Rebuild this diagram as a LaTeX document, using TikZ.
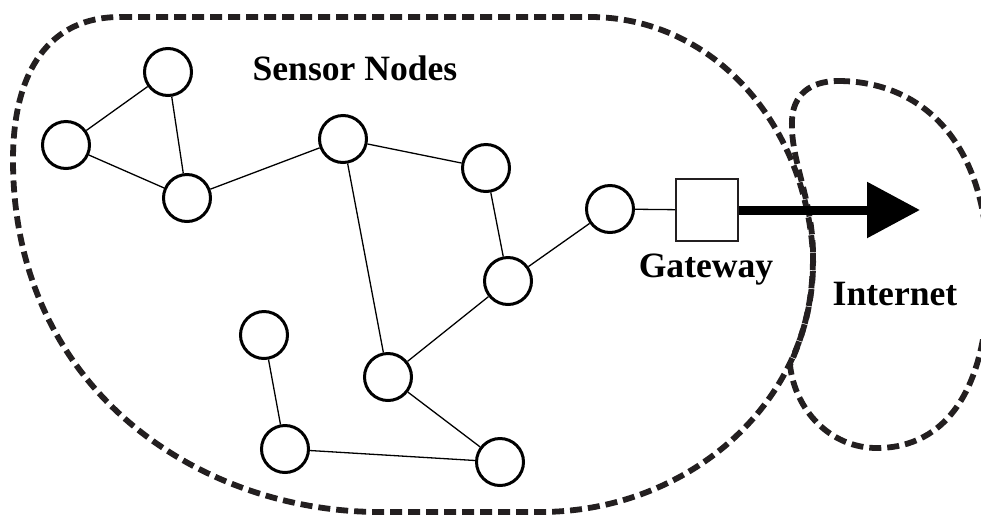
\documentclass[tikz,border=0pt]{standalone}
\usepackage{fontspec}
\setmainfont{Liberation Serif}
\usetikzlibrary{arrows.meta}
\definecolor{ink}{HTML}{231F20}
\begin{document}
\begin{tikzpicture}[x=1pt,y=-1pt,
  sensor/.style={circle, draw=black, line width=3pt, minimum size=47pt, inner sep=0pt, fill=white},
  link/.style={line width=1.3pt},
  region/.style={draw=ink, line width=5.8pt, dash pattern=on 12pt off 6pt, line cap=butt},
  gatebox/.style={rectangle, draw=ink, line width=2.3pt, minimum width=62pt, minimum height=62pt, inner sep=0pt, fill=white},
  uplink/.style={line width=9pt, -{Triangle[length=53pt,width=54pt]}},
  lbl/.style={font=\fontsize{35.6}{40}\selectfont\bfseries, inner sep=0pt, anchor=base}]
\useasboundingbox (0,0) rectangle (981,515);

% sensor field boundary
\draw[region] (120,17) -- (590,17)
  .. controls (710,17) and (805,120) .. (813,255)
  .. controls (817,400) and (690,512) .. (540,512)
  -- (380,512)
  .. controls (200,512) and (13,390) .. (13,160)
  .. controls (13,70) and (50,17) .. (120,17) -- cycle;

% internet cloud boundary
\draw[region] (838,81)
  .. controls (920,81) and (988,140) .. (988,270)
  .. controls (990,390) and (945,448) .. (877,448)
  .. controls (830,448) and (795,410) .. (790,365)
  .. controls (805,330) and (813,300) .. (813,255)
  .. controls (813,200) and (790,160) .. (792,120)
  .. controls (793,95) and (810,81) .. (838,81) -- cycle;

% sensor nodes
\node[sensor] (n1) at (168,72) {};
\node[sensor] (n2) at (66,145) {};
\node[sensor] (n3) at (187,198) {};
\node[sensor] (n4) at (343,139) {};
\node[sensor] (n5) at (486,168) {};
\node[sensor] (n6) at (610,209) {};
\node[sensor] (n7) at (508,281) {};
\node[sensor] (n8) at (264,335) {};
\node[sensor] (n9) at (388,377) {};
\node[sensor] (n10) at (285,449) {};
\node[sensor] (n11) at (500,462) {};

% gateway
\node[gatebox] (gw) at (707,210) {};
\coordinate (net) at (920,210);

% radio links
\draw[link] (n1) -- (n2);
\draw[link] (n1) -- (n3);
\draw[link] (n2) -- (n3);
\draw[link] (n3) -- (n4);
\draw[link] (n4) -- (n5);
\draw[link] (n4) -- (n9);
\draw[link] (n5) -- (n7);
\draw[link] (n7) -- (n6);
\draw[link] (n7) -- (n9);
\draw[link] (n9) -- (n11);
\draw[link] (n8) -- (n10);
\draw[link] (n10) -- (n11);
\draw[link] (n6) -- (gw);

% uplink to the internet
\draw[uplink] (gw) -- (net);

% labels
\node[lbl] (lsensor) at (355,80) {Sensor Nodes};
\node[lbl] (lgw) at (706,277) {Gateway};
\node[lbl] (lnet) at (895,305) {Internet};
\end{tikzpicture}
\end{document}
